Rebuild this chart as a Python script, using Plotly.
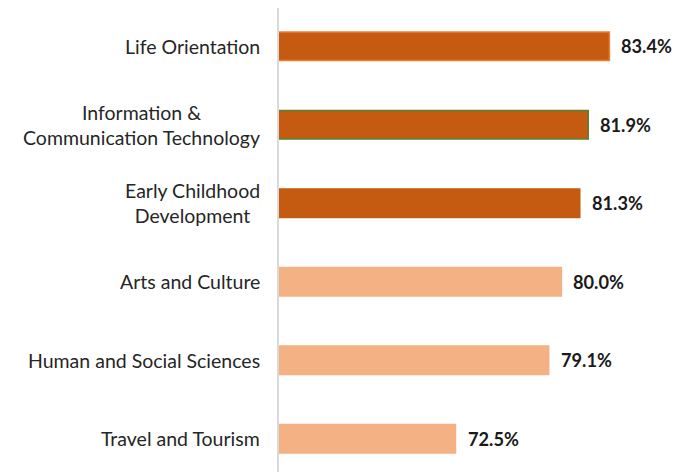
import plotly.graph_objects as go

categories = ["Travel and Tourism", "Human and Social Sciences", "Arts and Culture",
              "Early Childhood<br>Development", "Information &<br>Communication Technology",
              "Life Orientation"]
values = [72.5, 79.1, 80.0, 81.3, 81.9, 83.4]
value_labels = ["72.5%", "79.1%", "80.0%", "81.3%", "81.9%", "83.4%"]
fill_colors = ["#F4B183", "#F4B183", "#F4B183", "#C55A11", "#C55A11", "#C55A11"]
line_colors = ["#F4B183", "#F4B183", "#F4B183", "#C55A11", "#548235", "#ED7D31"]

ypos = list(range(len(categories)))
FONT = "Lato"
FS = 19.5

fig = go.Figure()
fig.add_trace(go.Bar(
    y=ypos, x=values, orientation="h",
    marker=dict(color=fill_colors, line=dict(color=line_colors, width=1.5)),
    width=0.363, hoverinfo="skip",
))

annotations = []
for i, (v, t) in enumerate(zip(values, value_labels)):
    annotations.append(dict(x=v, y=i, xref="x", yref="y", text=t, showarrow=False,
                            xanchor="left", xshift=11, borderpad=0,
                            font=dict(family=FONT, size=18.2, color="#1a1a1a", weight="bold")))
for i, c in enumerate(categories):
    annotations.append(dict(x=0, y=i, xref="paper", yref="y", text=c, showarrow=False,
                            xanchor="right", yanchor="middle", xshift=-17, align="center",
                            font=dict(family=FONT, size=FS, color="#262626")))

fig.update_layout(
    width=672, height=464,
    margin=dict(l=271, r=48, t=0, b=0),
    plot_bgcolor="white", paper_bgcolor="white",
    showlegend=False,
    xaxis=dict(range=[60, 85], visible=False),
    yaxis=dict(range=[-0.423, 5.487], showticklabels=False, showgrid=False, zeroline=False,
               showline=True, linecolor="#d9d9d9", linewidth=2, ticks=""),
    annotations=annotations,
)
fig.write_html("out.html")
